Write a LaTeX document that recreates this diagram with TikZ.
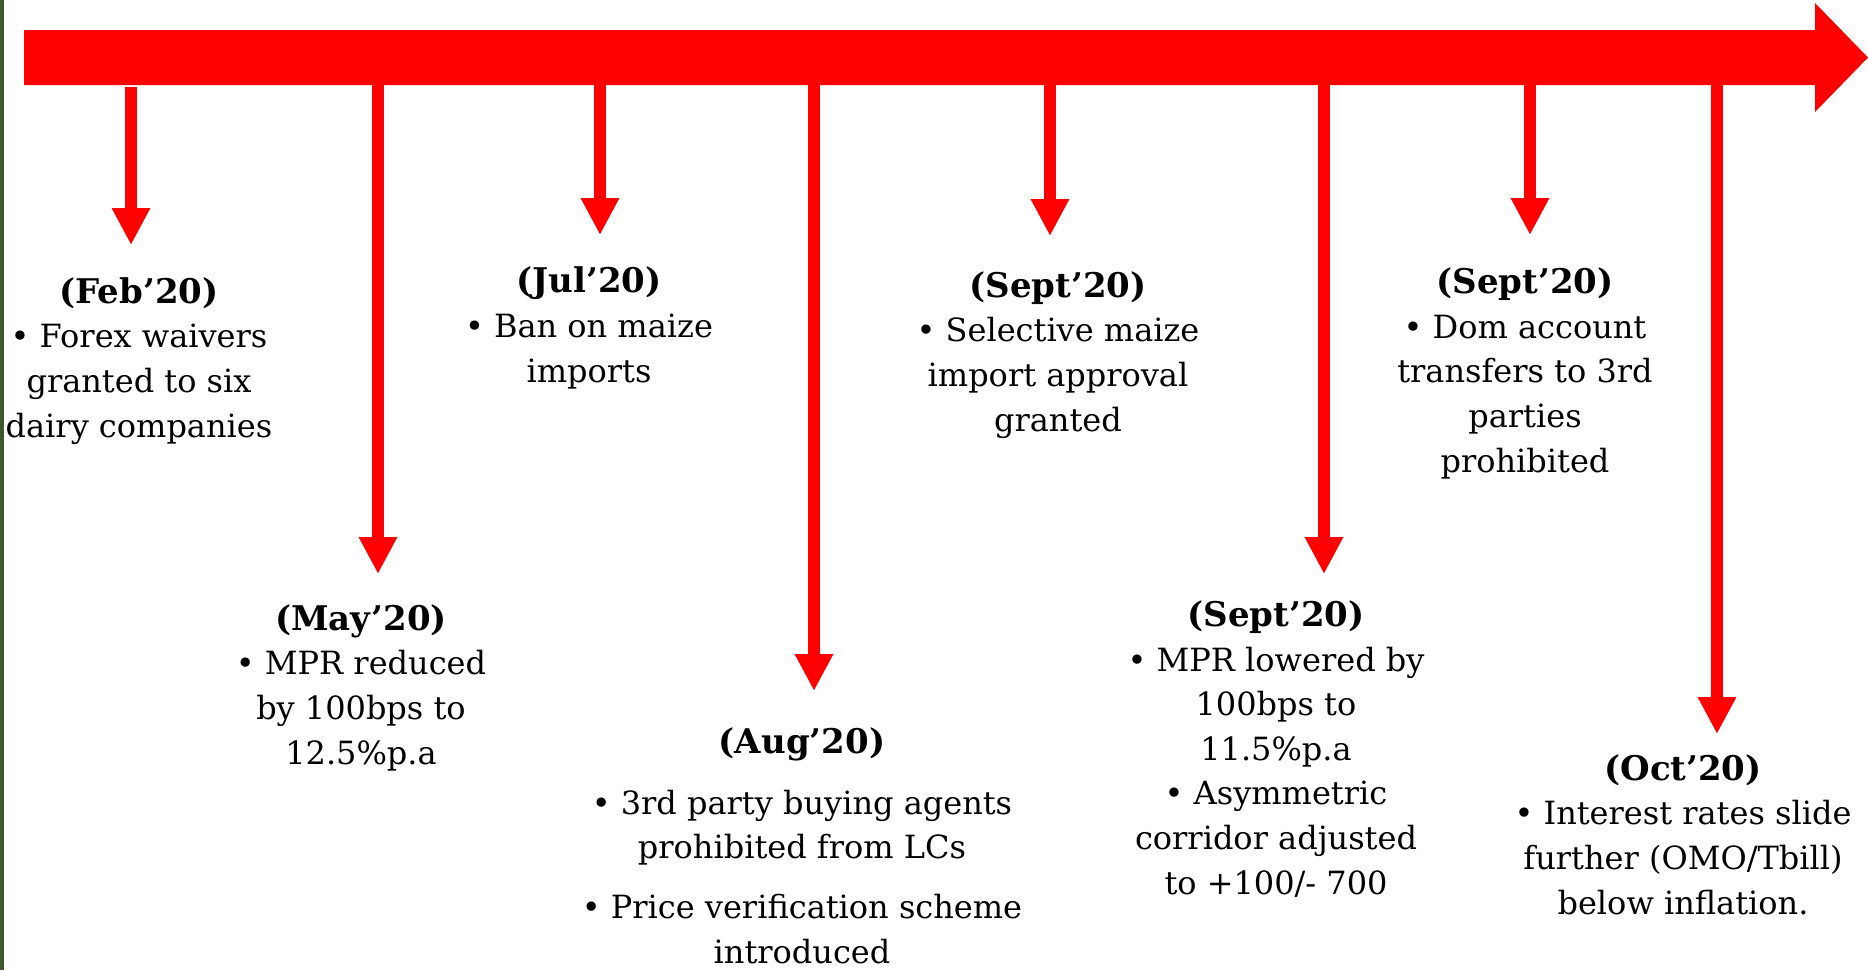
\documentclass[tikz,border=0pt]{standalone}
\usepackage{fontspec}
\setmainfont{DejaVu Serif}
\usetikzlibrary{arrows.meta}
\definecolor{tlred}{RGB}{255,0,0}
\definecolor{edgegreen}{RGB}{62,90,42}
\newcommand{\evtitle}[1]{{\fontsize{34}{44.6}\selectfont\bfseries #1}}
\begin{document}
\begin{tikzpicture}[x=1pt,y=-1pt,
  evtext/.style={align=center, font=\fontsize{32}{44.6}\selectfont, inner sep=0pt, anchor=base},
  drop/.style={draw=tlred, line width=12pt, -{Triangle[width=36pt,length=37pt]}},
]
\useasboundingbox (0,0) rectangle (1868,970);
\fill[edgegreen] (0,0) rectangle (4,970);
% main timeline arrow
\fill[tlred] (24,30) -- (1815,30) -- (1815,3) -- (1868,57.5) -- (1815,112) -- (1815,85) -- (24,85) -- cycle;

% arrow start / tip coordinates
\coordinate (fS) at (131,87);   \coordinate (fE) at (131,245);
\coordinate (mS) at (378,84);   \coordinate (mE) at (378,574);
\coordinate (jS) at (600,84);   \coordinate (jE) at (600,235);
\coordinate (aS) at (814,84);   \coordinate (aE) at (814,691);
\coordinate (s1S) at (1050,84); \coordinate (s1E) at (1050,236);
\coordinate (s2S) at (1324,84); \coordinate (s2E) at (1324,574);
\coordinate (s3S) at (1530,84); \coordinate (s3E) at (1530,235);
\coordinate (oS) at (1717,84);  \coordinate (oE) at (1717,734);

\draw[drop] (fS) -- (fE);
\draw[drop] (mS) -- (mE);
\draw[drop] (jS) -- (jE);
\draw[drop] (aS) -- (aE);
\draw[drop] (s1S) -- (s1E);
\draw[drop] (s2S) -- (s2E);
\draw[drop] (s3S) -- (s3E);
\draw[drop] (oS) -- (oE);

% node positions are the baselines of the last lines
\node[evtext] (feb) at (139,437) {\evtitle{(Feb’20)}\\• Forex waivers\\granted to six\\dairy companies};
\node[evtext] (may) at (361,764) {\evtitle{(May’20)}\\• MPR reduced\\by 100bps to\\12.5\%p.a};
\node[evtext] (jul) at (589,382) {\evtitle{(Jul’20)}\\• Ban on maize\\imports};
\node[evtext] (aug) at (802,963) {\evtitle{(Aug’20)}\\[16pt]• 3rd party buying agents\\prohibited from LCs\\[15pt]• Price verification scheme\\introduced};
\node[evtext] (sepa) at (1058,431) {\evtitle{(Sept’20)}\\• Selective maize\\import approval\\granted};
\node[evtext] (sepb) at (1276,894) {\evtitle{(Sept’20)}\\• MPR lowered by\\100bps to\\11.5\%p.a\\• Asymmetric\\corridor adjusted\\to +100/- 700};
\node[evtext] (sepc) at (1525,472) {\evtitle{(Sept’20)}\\• Dom account\\transfers to 3rd\\parties\\prohibited};
\node[evtext] (oct) at (1683,914) {\evtitle{(Oct’20)}\\• Interest rates slide\\further (OMO/Tbill)\\below inflation.};
\end{tikzpicture}
\end{document}
